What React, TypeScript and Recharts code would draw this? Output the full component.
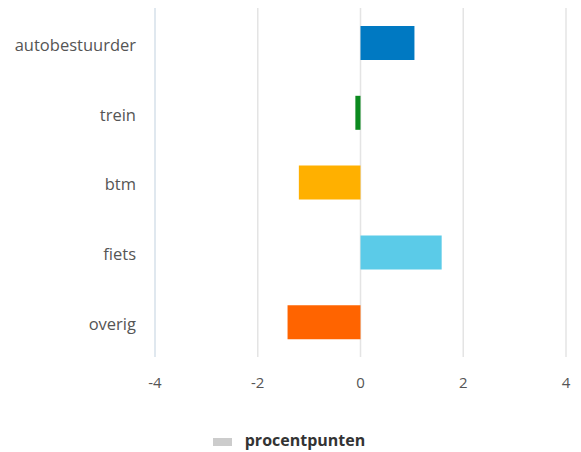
import { Bar, BarChart, CartesianGrid, Cell, Legend, XAxis, YAxis } from 'recharts';

// Change per travel mode, in percentage points.
const CATEGORIES = ['autobestuurder', 'trein', 'btm', 'fiets', 'overig'];
const VALUES = [1.05, -0.1, -1.2, 1.58, -1.42];
const COLORS = ['#0079c2', '#0b8a1f', '#ffb000', '#5bcbe8', '#ff6400'];
const X_TICKS = [-4, -2, 0, 2, 4];

const data = CATEGORIES.map((name, i) => ({ name, value: VALUES[i] }));

const FONT = '"Open Sans", sans-serif';

function LegendBox() {
  return (
    <div style={{ height: 24, display: 'flex', justifyContent: 'center', alignItems: 'center', fontFamily: FONT, paddingLeft: 12 }}>
      <span style={{ display: 'inline-block', width: 19, height: 8, background: '#cccccc', marginRight: 13, marginTop: 4 }} />
      <span style={{ fontSize: 16, fontWeight: 700, color: '#333' }}>procentpunten</span>
    </div>
  );
}

export default function App() {
  return (
    <div style={{ position: 'absolute', left: 0, top: 0, width: 581, height: 452, background: '#fff' }}>
      <BarChart
        width={581}
        height={452}
        data={data}
        layout="vertical"
        margin={{ top: 8, right: 15, bottom: 31, left: 0 }}
      >
        <CartesianGrid horizontal={false} stroke="#e4e4e4" strokeWidth={1.5} />
        <XAxis
          type="number"
          domain={[-4, 4]}
          ticks={X_TICKS}
          height={40}
          axisLine={false}
          tickLine={false}
          tickSize={0}
          tickMargin={20}
          tick={{ fill: '#555', fontSize: 15, fontFamily: FONT }}
        />
        <YAxis
          type="category"
          dataKey="name"
          width={155}
          axisLine={{ stroke: '#dce7f1', strokeWidth: 1.5 }}
          tickLine={false}
          tickSize={0}
          tickMargin={19}
          tick={{ fill: '#555', fontSize: 16.5, fontFamily: FONT, dy: 2 }}
        />
        <Legend verticalAlign="bottom" content={<LegendBox />} wrapperStyle={{ bottom: 0 }} />
        <Bar dataKey="value" barSize={34} isAnimationActive={false}>
          {data.map((d, i) => (
            <Cell key={d.name} fill={COLORS[i]} />
          ))}
        </Bar>
      </BarChart>
    </div>
  );
}
